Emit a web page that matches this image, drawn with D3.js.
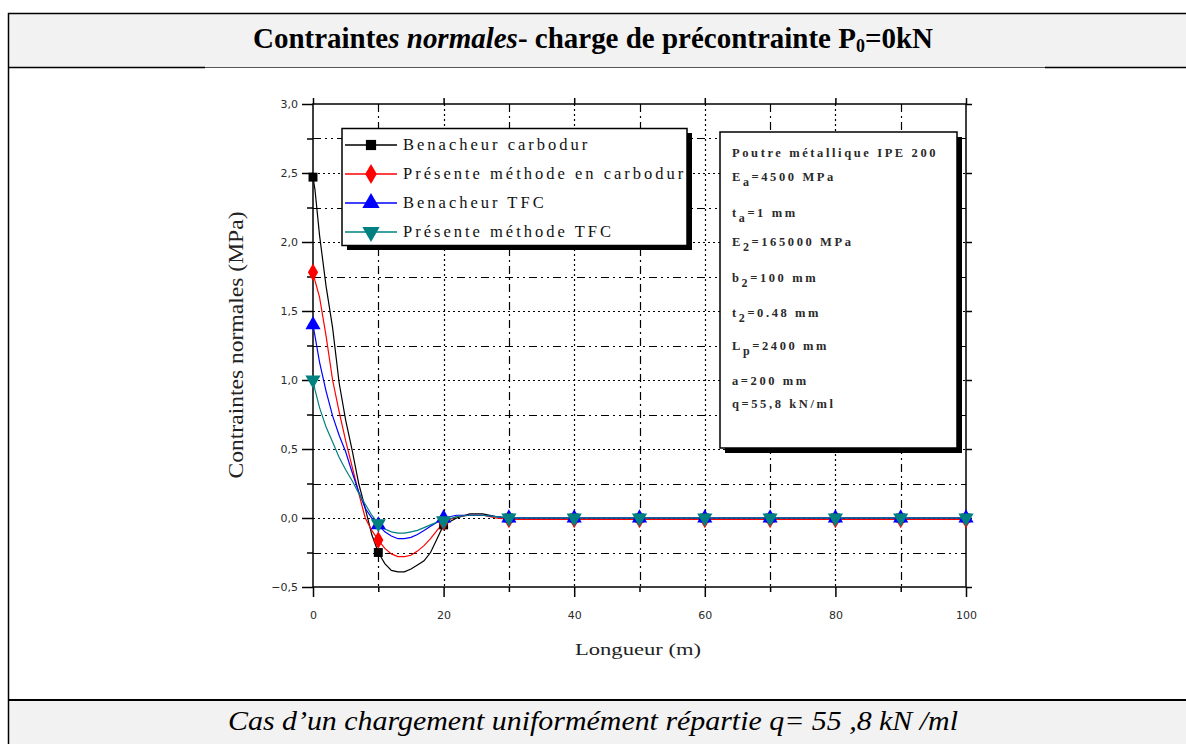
<!DOCTYPE html>
<html><head><meta charset="utf-8">
<script src="https://cdn.jsdelivr.net/npm/d3@7"></script>
<style>
html,body{margin:0;padding:0;background:#fff;}
svg{display:block;}
</style></head>
<body>
<svg id="chart" width="1186" height="744"></svg>
<script>
// ---------- DATA ----------
const xSamples = [0,0.3,1,2,3,4,5,6,7,8,9,10,11,12,13,14,15,16,17,18,19,20,22,24,26,28,30,40,50,60,70,80,90,100];
const benacheurCarbodur = [2.47,2.38,2.05,1.68,1.38,0.98,0.71,0.49,0.25,0.07,-0.12,-0.25,-0.33,-0.38,-0.39,-0.39,-0.37,-0.34,-0.31,-0.25,-0.15,-0.05,0.0,0.03,0.03,0.01,0,0,0,0,0,0,0,0];
const presenteCarbodur = [1.78,1.72,1.60,1.32,1.00,0.77,0.56,0.37,0.18,0.0,-0.09,-0.16,-0.22,-0.26,-0.28,-0.28,-0.27,-0.24,-0.20,-0.15,-0.09,-0.03,0.01,0.02,0.02,0.0,-0.01,-0.01,-0.01,-0.01,-0.01,-0.01,-0.01,-0.01];
const benacheurTFC = [1.40,1.32,1.13,0.92,0.74,0.60,0.48,0.33,0.19,0.07,0.0,-0.05,-0.10,-0.13,-0.15,-0.15,-0.14,-0.12,-0.09,-0.06,-0.03,0.0,0.02,0.02,0.02,0.01,0,0,0,0,0,0,0,0];
const presenteTFC = [1.00,0.93,0.80,0.66,0.55,0.44,0.35,0.27,0.18,0.10,0.02,-0.04,-0.08,-0.10,-0.11,-0.11,-0.10,-0.09,-0.07,-0.05,-0.03,-0.02,0.01,0.02,0.02,0.01,0,0,0,0,0,0,0,0];
const markerX = [0,10,20,30,40,50,60,70,80,90,100];
const seriesNames = ["Benacheur carbodur","Présente méthode en carbodur","Benacheur TFC","Présente méthode TFC"];
const xTicks = [0,20,40,60,80,100];
const yTicks = [-0.5,0,0.5,1.0,1.5,2.0,2.5,3.0];
const annotLines = [
  {t:"Poutre métallique IPE 200", sub:null, rest:""},
  {t:"E", sub:"a", rest:"=4500 MPa"},
  {t:"t", sub:"a", rest:"=1 mm"},
  {t:"E", sub:"2", rest:"=165000 MPa"},
  {t:"b", sub:"2", rest:"=100 mm"},
  {t:"t", sub:"2", rest:"=0.48 mm"},
  {t:"L", sub:"p", rest:"=2400 mm"},
  {t:"a=200 mm", sub:null, rest:""},
  {t:"q=55,8 kN/ml", sub:null, rest:""}
];

// ---------- LAYOUT ----------
const svg = d3.select("#chart");
const W = 1186, H = 744;
const L = 313, R = 966, T = 104, B = 587;
const x = d3.scaleLinear().domain([0,100]).range([L,R]);
const y = d3.scaleLinear().domain([-0.5,3.0]).range([B,T]);
const serif = "'Liberation Serif','Times New Roman',serif";
const sans = "'DejaVu Sans','Liberation Sans',sans-serif";

// table frame
svg.append("rect").attr("x",8).attr("y",13).attr("width",W-8).attr("height",54).attr("fill","#f2f2f2");
svg.append("rect").attr("x",8).attr("y",700).attr("width",W-8).attr("height",44).attr("fill","#f2f2f2");
svg.append("line").attr("x1",8).attr("x2",W).attr("y1",13.5).attr("y2",13.5).attr("stroke","#000").attr("stroke-width",1.5);
svg.append("line").attr("x1",8.5).attr("x2",8.5).attr("y1",13).attr("y2",H).attr("stroke","#000").attr("stroke-width",1.5);
svg.append("line").attr("x1",8).attr("x2",W).attr("y1",67.5).attr("y2",67.5).attr("stroke","#555").attr("stroke-width",1);
svg.append("line").attr("x1",8).attr("x2",205).attr("y1",67.5).attr("y2",67.5).attr("stroke","#000").attr("stroke-width",1.5);
svg.append("line").attr("x1",1045).attr("x2",W).attr("y1",67.5).attr("y2",67.5).attr("stroke","#000").attr("stroke-width",1.5);
svg.append("line").attr("x1",8).attr("x2",W).attr("y1",700).attr("y2",700).attr("stroke","#000").attr("stroke-width",2);

// title
const title = svg.append("text").attr("x",593).attr("y",48).attr("text-anchor","middle")
  .attr("font-family",serif).attr("font-size",29).attr("font-weight","bold")
  .attr("textLength",680).attr("lengthAdjust","spacingAndGlyphs");
title.append("tspan").text("Contrainte");
title.append("tspan").attr("font-style","italic").text("s normales");
title.append("tspan").text("-  charge de précontrainte P");
title.append("tspan").attr("font-size",18).attr("dy",4).text("0");
title.append("tspan").attr("dy",-4).text("=0kN");

// caption
svg.append("text").attr("x",593).attr("y",730).attr("text-anchor","middle")
  .attr("font-family",serif).attr("font-size",28).attr("font-style","italic")
  .attr("textLength",730).attr("lengthAdjust","spacingAndGlyphs")
  .text("Cas d’un chargement uniformément répartie q= 55 ,8 kN /ml");

// ---------- GRID ----------
const g = svg.append("g");
const yMinor = d3.range(-0.25, 3.0, 0.5);
const yMajorInner = [0,0.5,1.0,1.5,2.0,2.5];
g.selectAll(".hgmaj").data(yMajorInner).join("line")
  .attr("x1",L).attr("x2",R).attr("y1",d=>Math.round(y(d))+0.5).attr("y2",d=>Math.round(y(d))+0.5)
  .attr("stroke","#000").attr("stroke-width",1.2).attr("stroke-dasharray","2,3");
g.selectAll(".hgmin").data(yMinor).join("line")
  .attr("x1",L).attr("x2",R).attr("y1",d=>Math.round(y(d))+0.5).attr("y2",d=>Math.round(y(d))+0.5)
  .attr("stroke","#000").attr("stroke-width",1.2).attr("stroke-dasharray","8,4,2,4,2,4");
g.selectAll(".vgmaj").data([20,40,60,80]).join("line")
  .attr("x1",d=>Math.round(x(d))+0.5).attr("x2",d=>Math.round(x(d))+0.5).attr("y1",T).attr("y2",B)
  .attr("stroke","#000").attr("stroke-width",1.2).attr("stroke-dasharray","2,3");
g.selectAll(".vgmin").data([10,30,50,70,90]).join("line")
  .attr("x1",d=>Math.round(x(d))+0.5).attr("x2",d=>Math.round(x(d))+0.5).attr("y1",T).attr("y2",B)
  .attr("stroke","#000").attr("stroke-width",1.2).attr("stroke-dasharray","8,4,2,4");

// ---------- AXES ----------
const axisStyle = sel => { sel.select(".domain").remove(); sel.selectAll("line").attr("stroke","#000").attr("stroke-width",1.5); };
const xAxis = svg.append("g").attr("transform",`translate(0,${B})`)
  .call(d3.axisBottom(x).tickValues(xTicks).tickSize(10).tickPadding(14).tickFormat(d3.format("d")));
axisStyle(xAxis);
xAxis.selectAll("text").attr("font-family",sans).attr("font-size",11).attr("fill","#2a2a2a");
svg.append("g").attr("transform",`translate(0,${B})`)
  .call(d3.axisBottom(x).tickValues([10,30,50,70,90]).tickSize(5).tickFormat("")).call(axisStyle);
svg.append("g").attr("transform",`translate(0,${T})`)
  .call(d3.axisTop(x).tickValues(xTicks).tickSize(6).tickFormat("")).call(axisStyle);

const yAxis = svg.append("g").attr("transform",`translate(${L},0)`)
  .call(d3.axisLeft(y).tickValues(yTicks).tickSize(11).tickPadding(4).tickFormat(d=>d3.format(".1f")(d).replace(".",",")));
axisStyle(yAxis);
yAxis.selectAll("text").attr("font-family",sans).attr("font-size",11).attr("fill","#2a2a2a");
svg.append("g").attr("transform",`translate(${L},0)`)
  .call(d3.axisLeft(y).tickValues(yMinor).tickSize(6).tickFormat("")).call(axisStyle);
svg.append("g").attr("transform",`translate(${R},0)`)
  .call(d3.axisRight(y).tickValues(yTicks).tickSize(6).tickFormat("")).call(axisStyle);

// frame
svg.append("rect").attr("x",L).attr("y",T).attr("width",R-L).attr("height",B-T)
  .attr("fill","none").attr("stroke","#000").attr("stroke-width",1.5);

// axis titles
svg.append("text").attr("transform",`translate(243,345) rotate(-90)`).attr("text-anchor","middle")
  .attr("font-family",serif).attr("font-size",21).attr("fill","#222")
  .attr("textLength",267).attr("lengthAdjust","spacingAndGlyphs")
  .text("Contraintes normales (MPa)");
svg.append("text").attr("x",638).attr("y",655).attr("text-anchor","middle")
  .attr("font-family",serif).attr("font-size",16).attr("fill","#222")
  .attr("textLength",126).attr("lengthAdjust","spacingAndGlyphs")
  .text("Longueur (m)");

// ---------- SERIES ----------
const colors = ["#000000","#ff0000","#0000ff","#008080"];
const symbols = [d3.symbolSquare, d3.symbolDiamond, d3.symbolTriangle, d3.symbolTriangle];
const symSizes = [80, 90, 100, 100];
const rot = [0,0,0,180];
const allSeries = [benacheurCarbodur, presenteCarbodur, benacheurTFC, presenteTFC];
const line = d3.line().x(d=>x(d[0])).y(d=>y(d[1])).curve(d3.curveLinear);
const plot = svg.append("g");
allSeries.forEach((vals,i)=>{
  const pts = xSamples.map((xx,j)=>[xx,vals[j]]);
  plot.append("path").datum(pts).attr("d",line).attr("fill","none")
    .attr("stroke",colors[i]).attr("stroke-width",1.2);
});
allSeries.forEach((vals,i)=>{
  const pts = xSamples.map((xx,j)=>[xx,vals[j]]).filter(p=>markerX.includes(p[0]));
  plot.selectAll(null).data(pts).join("path")
    .attr("d",d3.symbol().type(symbols[i]).size(symSizes[i]))
    .attr("transform",p=>`translate(${x(p[0])},${y(p[1])}) rotate(${rot[i]})`)
    .attr("fill",colors[i]);
});

// ---------- LEGEND ----------
const lg = svg.append("g");
lg.append("rect").attr("x",347).attr("y",133).attr("width",345).attr("height",117).attr("fill","#000");
lg.append("rect").attr("x",342).attr("y",128.5).attr("width",345).attr("height",117).attr("fill","#fff").attr("stroke","#000").attr("stroke-width",1.5);
const legRows = [145,174,203,232];
seriesNames.forEach((name,i)=>{
  const yy = legRows[i];
  lg.append("line").attr("x1",345).attr("x2",397).attr("y1",yy).attr("y2",yy).attr("stroke",colors[i]).attr("stroke-width",1.5);
  lg.append("path").attr("d",d3.symbol().type(symbols[i]).size(symSizes[i]*1.3))
    .attr("transform",`translate(371,${yy}) rotate(${rot[i]})`).attr("fill",colors[i]);
  lg.append("text").attr("x",403).attr("y",yy+5).attr("font-family",serif).attr("font-size",16.5)
    .attr("letter-spacing",3).attr("fill","#111").text(name);
});

// ---------- ANNOTATION BOX ----------
const ab = svg.append("g");
ab.append("rect").attr("x",725).attr("y",137).attr("width",237).attr("height",316).attr("fill","#000");
ab.append("rect").attr("x",720).attr("y",132).attr("width",237).attr("height",316).attr("fill","#fff").attr("stroke","#000").attr("stroke-width",1.5);
const annY = [157,181,217,246,282,317,350,385,408];
annotLines.forEach((a,i)=>{
  const t = ab.append("text").attr("x",732).attr("y",annY[i]).attr("font-family",serif)
    .attr("font-size",12.5).attr("font-weight","bold").attr("letter-spacing",2.6).attr("fill","#2a2a2a");
  t.append("tspan").text(a.t);
  if (a.sub) {
    t.append("tspan").attr("dy",5).attr("font-size",12).text(a.sub);
    t.append("tspan").attr("dy",-5).text(a.rest);
  }
});
</script>
</body></html>
